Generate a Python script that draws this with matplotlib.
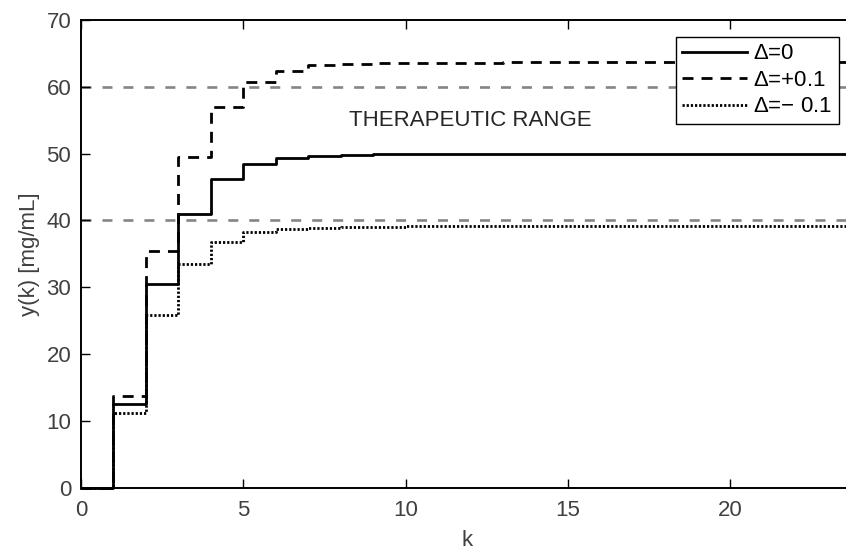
import numpy as np
import matplotlib.pyplot as plt

# sampling instants and output sequences for three parameter offsets
k = np.arange(0, 25)
y_nom = [0, 12.5, 30.5, 41.0, 46.2, 48.5, 49.3, 49.7, 49.85, 49.95,
         50, 50, 50, 50, 50, 50, 50, 50, 50, 50, 50, 50, 50, 50, 50]
y_plus = [0, 13.7, 35.4, 49.5, 57.0, 60.7, 62.4, 63.2, 63.4, 63.5,
          63.55, 63.6, 63.6, 63.65, 63.65, 63.7, 63.7, 63.7, 63.7, 63.7,
          63.7, 63.7, 63.7, 63.7, 63.7]
y_minus = [0, 11.2, 25.8, 33.5, 36.8, 38.2, 38.7, 38.9, 39.0, 39.05,
           39.1, 39.1, 39.1, 39.1, 39.1, 39.1, 39.1, 39.1, 39.1, 39.1,
           39.1, 39.1, 39.1, 39.1, 39.1]
labels = [r'$\Delta$=0', r'$\Delta$=+0.1', r'$\Delta$=$-$ 0.1']

# therapeutic window
y_low, y_high = 40, 60

plt.rcParams['font.family'] = ['Liberation Sans', 'DejaVu Sans']
plt.rcParams['mathtext.fontset'] = 'custom'
plt.rcParams['mathtext.rm'] = 'Liberation Sans'
plt.rcParams['lines.scale_dashes'] = False
fs = 16
txt_col = '#404040'

fig = plt.figure(figsize=(8.46, 5.53), dpi=100)
ax = fig.add_axes([81/846, 65.3/553, 1 - 81/846, 467.7/553])

for yl in (y_low, y_high):
    ax.axhline(yl, color='#858585', lw=1.9, dashes=(7.2, 7.9), zorder=1)

ax.step(k, y_nom, where='post', color='k', lw=2.0, label=labels[0],
        zorder=3, clip_on=False)
ax.step(k, y_plus, where='post', color='k', lw=2.0, dashes=(7.9, 5.8),
        label=labels[1], zorder=3, clip_on=False)
ax.step(k, y_minus, where='post', color='k', lw=2.0, dashes=(1.6, 1.4),
        label=labels[2], zorder=3, clip_on=False)

ax.text(12, 55, 'THERAPEUTIC RANGE', ha='center', va='center',
        fontsize=fs, color='#262626')

ax.set_xlim(0, 23.57)
ax.set_ylim(0, 70)
ax.set_xticks([0, 5, 10, 15, 20])
ax.set_yticks(np.arange(0, 71, 10))
ax.tick_params(direction='in', length=6.5, width=1, labelsize=fs,
               labelcolor=txt_col, top=True, right=False)
ax.tick_params(axis='x', pad=9)
ax.tick_params(axis='y', pad=7)
ax.spines['right'].set_visible(False)
for s in ('left', 'bottom', 'top'):
    ax.spines[s].set_linewidth(1.4)

ax.set_xlabel('k', fontsize=fs, color=txt_col)
ax.set_ylabel('y(k) [mg/mL]', fontsize=fs, color=txt_col)
ax.xaxis.set_label_coords(0.505, -0.09)
ax.yaxis.set_label_coords(-0.054, 0.5)

leg = ax.legend(loc='upper right', bbox_to_anchor=(839/846, 1 - 36.7/553),
                bbox_transform=fig.transFigure, borderaxespad=0,
                fontsize=fs, handlelength=2.9, handletextpad=0.3,
                labelspacing=0.25, borderpad=0.3, fancybox=False,
                framealpha=1, edgecolor='k')
leg.get_frame().set_linewidth(1.0)
leg.set_zorder(5)

fig.savefig('out.png', dpi=100)
